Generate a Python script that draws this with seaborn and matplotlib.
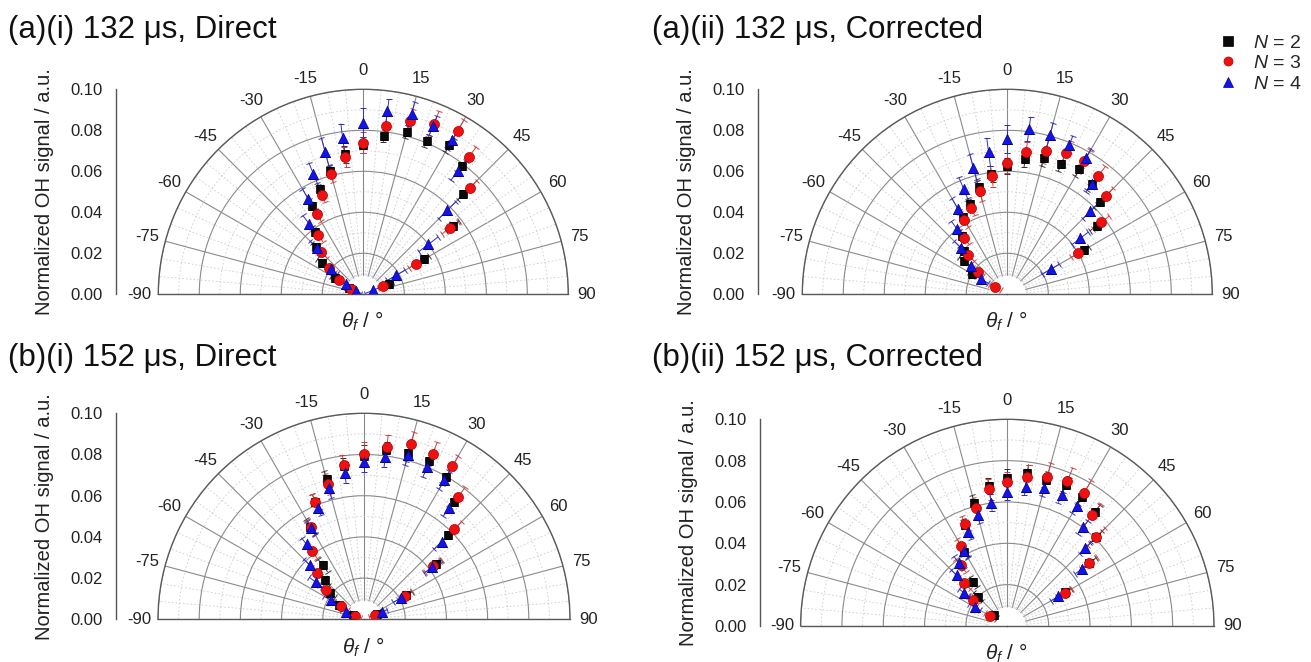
import numpy as np
import matplotlib
matplotlib.use("Agg")
import matplotlib.pyplot as plt
import seaborn as sns
from matplotlib.ticker import FixedLocator, MultipleLocator, FormatStrFormatter
from matplotlib.lines import Line2D

nan = np.nan

# ---------------- data ----------------
ANGLES_DEG = [-67.5, -60, -52.5, -45, -37.5, -30, -22.5, -15, -7.5, 0,
              7.5, 15, 22.5, 30, 37.5, 45, 52.5, 60, 67.5]
THETA_TICKS = [-90, -75, -60, -45, -30, -15, 0, 15, 30, 45, 60, 75, 90]
R_TICKS = [0.00, 0.02, 0.04, 0.06, 0.08, 0.10]

SERIES_LABELS = ["$N$ = 2", "$N$ = 3", "$N$ = 4"]
TITLES = ["(a)(i) 132 \u03bcs, Direct", "(a)(ii) 132 \u03bcs, Corrected",
          "(b)(i) 152 \u03bcs, Direct", "(b)(ii) 152 \u03bcs, Corrected"]
YLABEL = "Normalized OH signal / a.u."
XLABEL = r"$\theta_f$ / °"

# (a)(i) 132 us Direct
AI_N2 = [0.0076, 0.016, 0.0254, 0.0323, 0.0385, 0.050, 0.0558, 0.0624, 0.0688, 0.0728,
         0.078, 0.082, 0.081, 0.084, 0.079, 0.069, 0.055, 0.034, 0.0136]
AI_N3 = [0.0064, 0.0135, 0.0212, 0.029, 0.0363, 0.0455, 0.0526, 0.0607, 0.0674, 0.074,
         0.083, 0.0877, 0.0898, 0.092, 0.0847, 0.0735, 0.0533, 0.0296, 0.0106]
AI_N4 = [0.004, 0.010, 0.020, 0.032, 0.0435, 0.0535, 0.0635, 0.072, 0.077, 0.0837,
         0.090, 0.091, 0.089, 0.087, 0.076, 0.058, 0.040, 0.0185, 0.005]
AI_N2_ERR = [0.002, 0.002, 0.003, 0.003, 0.003, 0.003, 0.003, 0.003, 0.004, 0.004,
             0.003, 0.003, 0.003, 0.004, 0.004, 0.004, 0.004, 0.003, 0.002]
AI_N3_ERR = [0.003, 0.004, 0.004, 0.004, 0.004, 0.004, 0.004, 0.004, 0.005, 0.005,
             0.006, 0.006, 0.007, 0.006, 0.006, 0.005, 0.005, 0.004, 0.003]
AI_N4_ERR = [0.003, 0.004, 0.004, 0.005, 0.005, 0.006, 0.006, 0.007, 0.007, 0.007,
             0.006, 0.006, 0.005, 0.005, 0.006, 0.006, 0.006, 0.005, 0.004]

# (a)(ii) 132 us Corrected
AII_N2 = [nan, 0.0197, 0.0266, 0.030, 0.036, 0.0437, 0.0477, 0.054, 0.0593, 0.0626,
          0.0666, 0.0686, 0.069, 0.0704, 0.068, 0.0637, 0.055, 0.043, nan]
AII_N3 = [nan, 0.0068, 0.018, 0.027, 0.0347, 0.042, 0.0457, 0.052, 0.058, 0.064,
          0.070, 0.0725, 0.0748, 0.075, 0.0726, 0.068, 0.0577, 0.040, nan]
AII_N4 = [nan, 0.0148, 0.0226, 0.0316, 0.040, 0.048, 0.0558, 0.064, 0.070, 0.0758,
          0.0813, 0.0805, 0.0787, 0.077, 0.068, 0.0572, 0.0448, 0.0244, nan]
AII_N2_ERR = [nan, 0.002, 0.003, 0.003, 0.003, 0.003, 0.003, 0.004, 0.004, 0.004,
              0.004, 0.004, 0.004, 0.004, 0.004, 0.004, 0.004, 0.003, nan]
AII_N3_ERR = [nan, 0.003, 0.003, 0.004, 0.004, 0.004, 0.004, 0.005, 0.005, 0.005,
              0.005, 0.006, 0.006, 0.006, 0.006, 0.005, 0.005, 0.004, nan]
AII_N4_ERR = [nan, 0.004, 0.004, 0.005, 0.005, 0.006, 0.006, 0.007, 0.007, 0.007,
              0.006, 0.006, 0.005, 0.005, 0.005, 0.005, 0.005, 0.005, nan]

# (b)(i) 152 us Direct
BI_N2 = [0.006, 0.014, 0.021, 0.0268, 0.033, 0.052, 0.0616, 0.0703, 0.075, 0.0795,
         0.083, 0.0834, 0.083, 0.080, 0.072, 0.058, 0.044, 0.0238, 0.007]
BI_N3 = [0.0048, 0.013, 0.0235, 0.032, 0.0415, 0.0518, 0.0616, 0.068, 0.0756, 0.0802,
         0.0844, 0.0879, 0.0871, 0.0857, 0.0748, 0.0621, 0.0425, 0.023, 0.0057]
BI_N4 = [0.0092, 0.0183, 0.0294, 0.0374, 0.0458, 0.0512, 0.0587, 0.066, 0.0715, 0.0765,
         0.0796, 0.0825, 0.0798, 0.078, 0.068, 0.0533, 0.0416, 0.0205, 0.0093]
BI_N2_ERR = [0.002, 0.003, 0.003, 0.003, 0.004, 0.004, 0.004, 0.004, 0.004, 0.005,
             0.004, 0.004, 0.004, 0.004, 0.004, 0.004, 0.003, 0.003, 0.002]
BI_N3_ERR = [0.003, 0.004, 0.004, 0.004, 0.004, 0.004, 0.004, 0.005, 0.005, 0.006,
             0.006, 0.006, 0.006, 0.006, 0.006, 0.005, 0.005, 0.004, 0.003]
BI_N4_ERR = [0.003, 0.004, 0.004, 0.004, 0.004, 0.004, 0.004, 0.005, 0.005, 0.005,
             0.005, 0.005, 0.005, 0.005, 0.005, 0.005, 0.005, 0.004, 0.003]

# (b)(ii) 152 us Corrected
BII_N2 = [nan, nan, 0.0084, 0.020, 0.027, 0.0415, 0.053, 0.0614, 0.0683, 0.0718,
          0.0748, 0.073, 0.074, 0.072, 0.0697, 0.0609, 0.050, 0.0325, nan]
BII_N3 = [nan, 0.0094, 0.0207, 0.0293, 0.0369, 0.0448, 0.0534, 0.0589, 0.0667, 0.0695,
          0.0728, 0.0748, 0.0759, 0.0744, 0.0677, 0.0609, 0.050, 0.032, nan]
BII_N4 = [nan, 0.0182, 0.0266, 0.0346, 0.0385, 0.042, 0.0494, 0.0556, 0.0602, 0.065,
          0.0677, 0.069, 0.0686, 0.067, 0.0603, 0.0535, 0.0455, 0.0286, nan]
BII_N2_ERR = [nan, nan, 0.002, 0.003, 0.003, 0.003, 0.003, 0.004, 0.004, 0.004,
              0.004, 0.004, 0.004, 0.004, 0.004, 0.004, 0.004, 0.003, nan]
BII_N3_ERR = [nan, 0.003, 0.003, 0.004, 0.004, 0.004, 0.004, 0.005, 0.005, 0.005,
              0.006, 0.007, 0.007, 0.007, 0.007, 0.006, 0.005, 0.004, nan]
BII_N4_ERR = [nan, 0.003, 0.003, 0.004, 0.004, 0.004, 0.004, 0.004, 0.004, 0.004,
              0.004, 0.004, 0.004, 0.004, 0.004, 0.004, 0.004, 0.004, nan]

# ---------------- style ----------------
sns.set_style("white")
plt.rcParams["font.family"] = ["Liberation Sans", "DejaVu Sans"]
plt.rcParams["mathtext.fontset"] = "custom"
plt.rcParams["mathtext.rm"] = "Liberation Sans"
plt.rcParams["mathtext.it"] = "Liberation Sans:italic"

W, H = 1311, 662
fig = plt.figure(figsize=(W / 100, H / 100), dpi=100)
fig.patch.set_facecolor("white")

STYLES = [
    dict(marker="s", color="#0a0a0a", edge="#000000", s=40, ecolor="#333333"),
    dict(marker="o", color="#ee1111", edge="#b00000", s=52, ecolor="#d04040"),
    dict(marker="^", color="#1414e6", edge="#000090", s=55, ecolor="#3030c0"),
]

# panel geometry in pixels: centre x, centre y, radius, left-axis x, title y, xlabel y
PANELS = [
    (363.3, 294.3, 205.0, 116.0, 38, 321, TITLES[0], (AI_N2, AI_N3, AI_N4), (AI_N2_ERR, AI_N3_ERR, AI_N4_ERR), 8),
    (1007.3, 294.3, 205.0, 758.0, 38, 321, TITLES[1], (AII_N2, AII_N3, AII_N4), (AII_N2_ERR, AII_N3_ERR, AII_N4_ERR), 652),
    (364.0, 619.3, 206.0, 116.0, 366, 647, TITLES[2], (BI_N2, BI_N3, BI_N4), (BI_N2_ERR, BI_N3_ERR, BI_N4_ERR), 8),
    (1007.3, 626.0, 206.7, 760.0, 366, 653, TITLES[3], (BII_N2, BII_N3, BII_N4), (BII_N2_ERR, BII_N3_ERR, BII_N4_ERR), 652),
]

theta = np.deg2rad(ANGLES_DEG)
polar_axes = []
for (cx, cy, R, lx, ty, xly, title, vals, errs, tx) in PANELS:
    rect = [(cx - R) / W, (H - cy) / H, 2 * R / W, R / H]
    ax = fig.add_axes(rect, projection="polar")
    ax.set_theta_zero_location("N")
    ax.set_theta_direction(-1)
    ax.set_thetamin(-90)
    ax.set_thetamax(90)
    ax.set_axisbelow(True)
    ax.set_facecolor("white")

    for k in range(3):
        st = STYLES[k]
        ax.errorbar(theta, vals[k], yerr=errs[k], fmt="none", ecolor=st["ecolor"],
                    elinewidth=0.7, capsize=2.5, capthick=0.7, zorder=2 + k * 0.1)
        sns.scatterplot(x=theta, y=vals[k], ax=ax, marker=st["marker"], color=st["color"],
                        s=st["s"], edgecolor=st["edge"], linewidth=0.5,
                        zorder=3 + k * 0.1, legend=False)

    # central white hole where grid lines stop
    ax.bar(0, 0.009, width=np.pi, bottom=0, color="white", linewidth=0, zorder=1)

    ax.set_ylim(0, 0.1)
    ax.set_xticks(np.deg2rad(THETA_TICKS))
    ax.set_xticklabels([str(t) for t in THETA_TICKS], fontsize=12, color="#222222")
    ax.xaxis.set_minor_locator(FixedLocator(np.deg2rad(np.arange(-90, 91, 5))))
    ax.set_yticks(R_TICKS[1:])
    ax.set_yticklabels([])
    ax.yaxis.set_minor_locator(FixedLocator([0.01, 0.03, 0.05, 0.07, 0.09]))
    ax.tick_params(axis="y", which="both", length=0)
    ax.tick_params(axis="x", which="major", direction="in", length=5, width=0.8,
                   color="#555555", pad=6.5)
    ax.tick_params(axis="x", which="minor", direction="in", length=3, width=0.6,
                   color="#777777")
    ax.grid(which="major", color="#8a8a8a", linewidth=0.8, linestyle="-")
    ax.grid(which="minor", color="#cdcdcd", linewidth=0.6, linestyle=(0, (2, 2.5)))
    for sp in ("polar", "start", "end"):
        ax.spines[sp].set_color("#5a5a5a")
        ax.spines[sp].set_linewidth(1.0)
    ax.set_xlabel("")
    ax.set_ylabel("")
    polar_axes.append((ax, lx, ty, xly, title, tx, cx, cy, R))

# rescale each polar axes so the half-disc has the wanted centre and radius
for it in range(3):
    fig.canvas.draw()
    for (ax, lx, ty, xly, title, tx, cx, cy, R) in polar_axes:
        c = ax.transData.transform((0, 0))
        t = ax.transData.transform((0, 0.1))
        Ra = t[1] - c[1]
        pos = ax.get_position(original=False)
        x0, y0 = pos.x0 * W, pos.y0 * H
        w, h = pos.width * W, pos.height * H
        ux, uy = (c[0] - x0) / w, (c[1] - y0) / h
        s = R / Ra
        w2, h2 = w * s, h * s
        nx0 = cx - ux * w2
        ny0 = (H - cy) - uy * h2
        ax.set_position([nx0 / W, ny0 / H, w2 / W, h2 / H], which="both")

fig.canvas.draw()
inv = fig.transFigure.inverted()
for (ax, lx, ty, xly, title, tx, cx, cy, R) in polar_axes:
    c = inv.transform(ax.transData.transform((0, 0)))
    t = inv.transform(ax.transData.transform((0, 0.1)))
    axl = fig.add_axes([lx / W, c[1], 0.0005, t[1] - c[1]])
    axl.patch.set_visible(False)
    for sp in ("top", "right", "bottom"):
        axl.spines[sp].set_visible(False)
    axl.spines["left"].set_color("#555555")
    axl.spines["left"].set_linewidth(1.0)
    axl.set_xticks([])
    axl.set_ylim(R_TICKS[0], R_TICKS[-1])
    axl.yaxis.set_major_locator(FixedLocator(R_TICKS))
    axl.yaxis.set_minor_locator(MultipleLocator(0.01))
    axl.yaxis.set_major_formatter(FormatStrFormatter("%.2f"))
    axl.tick_params(axis="y", which="major", length=6.5, width=0.9, color="#555555",
                    labelsize=12, labelcolor="#222222", pad=3)
    axl.tick_params(axis="y", which="minor", length=3.5, width=0.7, color="#555555")
    ymid = (c[1] + t[1]) / 2
    fig.text((lx - 71) / W, ymid, YLABEL, rotation=90, ha="center", va="center",
             fontsize=14.5, color="#222222")
    fig.text((cx - 1) / W, 1 - xly / H, XLABEL, ha="center", va="center",
             fontsize=15, color="#222222")
    fig.text(tx / W, 1 - ty / H, title, ha="left", va="baseline", fontsize=22.5,
             color="#111111")

handles = [Line2D([], [], linestyle="none", marker=st["marker"], markersize=6.5,
                  markerfacecolor=st["color"], markeredgecolor=st["edge"],
                  markeredgewidth=0.5) for st in STYLES]
fig.legend(handles, SERIES_LABELS, loc="upper left",
           bbox_to_anchor=(1218 / W, 1 - 34 / H), frameon=False, fontsize=14,
           handletextpad=0.8, labelspacing=0.15, borderaxespad=0, borderpad=0,
           handlelength=1.0)

fig.savefig("out.png", dpi=100, facecolor="white")
